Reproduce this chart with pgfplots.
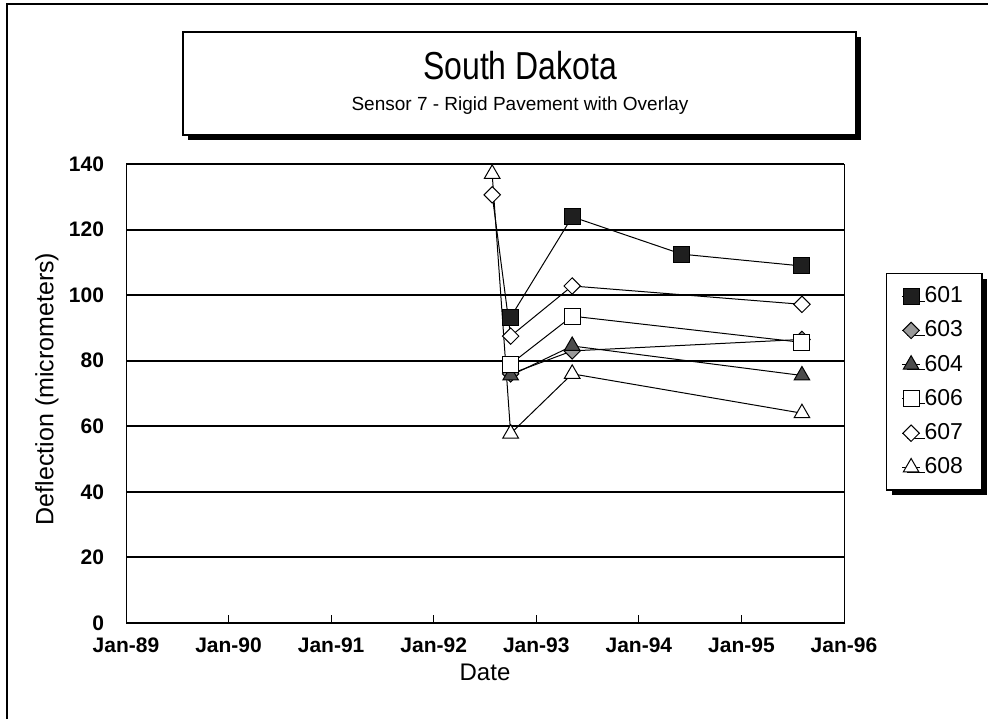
\documentclass[border=0pt]{standalone}
\usepackage{pgfplots}
\pgfplotsset{compat=1.18}
\usepackage{fontspec}
\setmainfont{Liberation Sans}
\usetikzlibrary{shadows}
\begin{document}
\begin{tikzpicture}[x=0.5pt,y=-0.5pt]
\path (0,0) rectangle (999,719);
\draw[line width=1pt] (7,719) -- (7,4) -- (988,4);
\fill[black] (856,37) rectangle (861,140);
\fill[black] (188,135) rectangle (861,140);
\draw[line width=0.6pt, fill=white] (183,32) rectangle (856,135);
\node at (520,66) {\scalebox{0.82}[1]{\fontsize{19.5}{24}\selectfont South Dakota}};
\node at (520,106) {\fontsize{9.5}{11}\selectfont Sensor 7 - Rigid Pavement with Overlay};
\coordinate (A) at (126,623);
\begin{axis}[
  at={(A)}, anchor=south west, scale only axis,
  width=359pt, height=229.5pt,
  xmin=1989, xmax=1996, ymin=0, ymax=140,
  xtick={1989,1990,1991,1992,1993,1994,1995,1996},
  xticklabels={Jan-89,Jan-90,Jan-91,Jan-92,Jan-93,Jan-94,Jan-95,Jan-96},
  ytick={0,20,40,60,80,100,120,140},
  ymajorgrids, grid style={black, line width=1pt},
  axis line style={line width=0.5pt},
  tick align=inside, tick pos=left, major tick length=4pt,
  tick style={black, line width=0.5pt},
  ticklabel style={font=\fontsize{10.5}{12}\selectfont\bfseries},
  /pgf/number format/assume math mode=true,
  xticklabel style={yshift=-4pt},
  yticklabel style={xshift=-7.5pt},
  xlabel={Date},
  xlabel style={font=\fontsize{12}{14}\selectfont, at={(axis description cs:0.5,0)}, anchor=north, yshift=-17pt},
  ylabel={Deflection (micrometers)},
  ylabel style={font=\fontsize{12.5}{14}\selectfont, at={(axis description cs:-0.110,0.51)}, anchor=center},
  legend style={at={(1.0585,0.7625)}, anchor=north west, draw=black, line width=0.6pt, fill=white,
    font=\fontsize{11.5}{13}\selectfont, row sep=3.6pt, inner xsep=7.5pt, inner ysep=4.5pt,
    drop shadow={shadow xshift=2.5pt, shadow yshift=-2.5pt, fill=black, opacity=1}},
  legend cell align=left,
  legend image code/.code={\draw[mark repeat=2,mark phase=2] plot coordinates {(0pt,0pt)(4.5pt,0pt)(9pt,0pt)};},
  every axis plot/.append style={black, line width=0.5pt},
]
\addplot[mark=square*, mark size=4pt, mark options={fill=black!88, draw=black}] coordinates {
(1992.75,93.3) (1993.35,123.9) (1994.42,112.5) (1995.59,108.9)};
\addlegendentry{601}
\addplot[mark=square*, mark size=2.9pt, mark options={rotate=45, fill=black!40, draw=black}] coordinates {
(1992.75,76) (1993.35,83) (1995.59,86.5)};
\addlegendentry{603}
\addplot[mark=triangle*, mark size=4.5pt, mark options={fill=black!70, draw=black}] coordinates {
(1992.75,75.5) (1993.35,84.5) (1995.59,75.5)};
\addlegendentry{604}
\addplot[mark=square*, mark size=4pt, mark options={fill=white, draw=black}] coordinates {
(1992.75,79) (1993.35,93.6) (1995.59,85.6)};
\addlegendentry{606}
\addplot[mark=square*, mark size=2.9pt, mark options={rotate=45, fill=white, draw=black}] coordinates {
(1992.57,130.6) (1992.75,87.5) (1993.35,102.8) (1995.59,97.2)};
\addlegendentry{607}
\addplot[mark=triangle*, mark size=4.5pt, mark options={fill=white, draw=black}] coordinates {
(1992.57,137) (1992.75,57.8) (1993.35,76) (1995.59,64)};
\addlegendentry{608}
\end{axis}
\end{tikzpicture}
\end{document}
